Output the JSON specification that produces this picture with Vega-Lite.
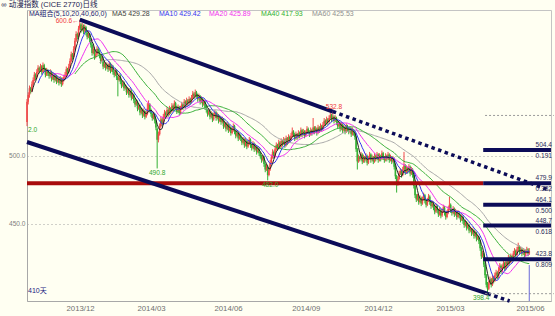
{
"$schema":"https://vega.github.io/schema/vega-lite/v6.json",
"autosize":{"type":"none"},
"padding":{"left":27,"top":10,"right":4,"bottom":15},
"width":524,"height":291,
"background":"#fffff2",
"config":{"view":{"stroke":"#c4c4c4"},"text":{"font":"Liberation Sans, Noto Sans CJK SC, sans-serif","fontSize":6.6}},
"datasets":{"k":[
{"i":0,"o":525,"h":542,"l":522,"c":540},{"i":1,"o":540,"h":547,"l":538,"c":545},{"i":2,"o":545,"h":552,"l":543,"c":550},{"i":3,"o":550,"h":551,"l":546,"c":548},{"i":4,"o":548,"h":555,"l":547,"c":553},{"i":5,"o":553,"h":558,"l":552,"c":556},{"i":6,"o":556,"h":562,"l":555,"c":560},{"i":7,"o":560,"h":561,"l":556,"c":558},{"i":8,"o":558,"h":564,"l":557,"c":562},{"i":9,"o":562,"h":567,"l":561,"c":565},
{"i":10,"o":565,"h":566,"l":561,"c":563},{"i":11,"o":563,"h":568,"l":562,"c":566},{"i":12,"o":566,"h":567,"l":560,"c":562},{"i":13,"o":562,"h":569,"l":561,"c":567},{"i":14,"o":567,"h":568,"l":562,"c":564},{"i":15,"o":564,"h":565,"l":558,"c":560},{"i":16,"o":560,"h":565,"l":559,"c":563},{"i":17,"o":563,"h":564,"l":559,"c":561},{"i":18,"o":561,"h":562,"l":557,"c":559},{"i":19,"o":559,"h":564,"l":558,"c":562},
{"i":20,"o":562,"h":563,"l":555,"c":557},{"i":21,"o":557,"h":562,"l":556,"c":560},{"i":22,"o":560,"h":561,"l":554,"c":556},{"i":23,"o":556,"h":561,"l":555,"c":559},{"i":24,"o":559,"h":560,"l":553,"c":555},{"i":25,"o":555,"h":559,"l":554,"c":557},{"i":26,"o":557,"h":558,"l":552,"c":554},{"i":27,"o":554,"h":559,"l":553,"c":557},{"i":28,"o":557,"h":558,"l":551,"c":553},{"i":29,"o":553,"h":558,"l":552,"c":556},
{"i":30,"o":556,"h":560,"l":555,"c":558},{"i":31,"o":558,"h":562,"l":557,"c":560},{"i":32,"o":560,"h":566,"l":559,"c":564},{"i":33,"o":564,"h":565,"l":560,"c":562},{"i":34,"o":562,"h":568,"l":561,"c":566},{"i":35,"o":566,"h":572,"l":565,"c":570},{"i":36,"o":570,"h":577,"l":569,"c":575},{"i":37,"o":575,"h":576,"l":571,"c":573},{"i":38,"o":573,"h":581,"l":572,"c":579},{"i":39,"o":579,"h":587,"l":578,"c":585},
{"i":40,"o":585,"h":592,"l":584,"c":590},{"i":41,"o":590,"h":591,"l":586,"c":588},{"i":42,"o":588,"h":596,"l":587,"c":594},{"i":43,"o":594,"h":600.6,"l":593,"c":597},{"i":44,"o":597,"h":598,"l":591,"c":593},{"i":45,"o":593,"h":598,"l":592,"c":596},{"i":46,"o":596,"h":597,"l":590,"c":592},{"i":47,"o":592,"h":597,"l":591,"c":595},{"i":48,"o":595,"h":596,"l":589,"c":591},{"i":49,"o":591,"h":592,"l":586,"c":588},
{"i":50,"o":588,"h":592,"l":587,"c":590},{"i":51,"o":590,"h":591,"l":584,"c":586},{"i":52,"o":586,"h":587,"l":580,"c":582},{"i":53,"o":582,"h":583,"l":574,"c":576},{"i":54,"o":576,"h":581,"l":575,"c":579},{"i":55,"o":579,"h":580,"l":571,"c":573},{"i":56,"o":573,"h":577,"l":572,"c":575},{"i":57,"o":575,"h":581,"l":574,"c":579},{"i":58,"o":579,"h":580,"l":575,"c":577},{"i":59,"o":577,"h":578,"l":572,"c":574},
{"i":60,"o":574,"h":575,"l":568,"c":570},{"i":61,"o":570,"h":574,"l":569,"c":572},{"i":62,"o":572,"h":573,"l":564,"c":566},{"i":63,"o":566,"h":570,"l":565,"c":568},{"i":64,"o":568,"h":569,"l":563,"c":565},{"i":65,"o":565,"h":569,"l":564,"c":567},{"i":66,"o":567,"h":568,"l":562,"c":564},{"i":67,"o":564,"h":570,"l":563,"c":568},{"i":68,"o":568,"h":569,"l":561,"c":563},{"i":69,"o":563,"h":568,"l":562,"c":566},
{"i":70,"o":566,"h":567,"l":560,"c":562},{"i":71,"o":562,"h":563,"l":558,"c":560},{"i":72,"o":560,"h":565,"l":559,"c":563},{"i":73,"o":563,"h":564,"l":556,"c":558},{"i":74,"o":558,"h":559,"l":544,"c":556},{"i":75,"o":556,"h":561,"l":555,"c":559},{"i":76,"o":559,"h":560,"l":553,"c":555},{"i":77,"o":555,"h":556,"l":550,"c":552},{"i":78,"o":552,"h":556,"l":551,"c":554},{"i":79,"o":554,"h":555,"l":548,"c":550},
{"i":80,"o":550,"h":553,"l":549,"c":551},{"i":81,"o":551,"h":552,"l":545,"c":547},{"i":82,"o":547,"h":551,"l":546,"c":549},{"i":83,"o":549,"h":550,"l":543,"c":545},{"i":84,"o":545,"h":550,"l":544,"c":548},{"i":85,"o":548,"h":549,"l":541,"c":543},{"i":86,"o":543,"h":547,"l":542,"c":545},{"i":87,"o":545,"h":546,"l":539,"c":541},{"i":88,"o":541,"h":542,"l":536,"c":538},{"i":89,"o":538,"h":542,"l":537,"c":540},
{"i":90,"o":540,"h":541,"l":533,"c":535},{"i":91,"o":535,"h":539,"l":534,"c":537},{"i":92,"o":537,"h":538,"l":530,"c":532},{"i":93,"o":532,"h":536,"l":531,"c":534},{"i":94,"o":534,"h":535,"l":528,"c":530},{"i":95,"o":530,"h":535,"l":529,"c":533},{"i":96,"o":533,"h":534,"l":527,"c":529},{"i":97,"o":529,"h":533,"l":528,"c":531},{"i":98,"o":531,"h":539,"l":530,"c":535},{"i":99,"o":535,"h":541,"l":534,"c":538},
{"i":100,"o":538,"h":539,"l":532,"c":534},{"i":101,"o":534,"h":535,"l":529,"c":531},{"i":102,"o":531,"h":532,"l":526,"c":528},{"i":103,"o":528,"h":532,"l":527,"c":530},{"i":104,"o":530,"h":531,"l":524,"c":526},{"i":105,"o":526,"h":527,"l":519,"c":521},{"i":106,"o":520,"h":521,"l":490.8,"c":512},{"i":107,"o":512,"h":518,"l":510,"c":516},{"i":108,"o":516,"h":524,"l":515,"c":522},{"i":109,"o":522,"h":529,"l":521,"c":527},
{"i":110,"o":527,"h":528,"l":522,"c":524},{"i":111,"o":524,"h":531,"l":523,"c":529},{"i":112,"o":529,"h":534,"l":528,"c":532},{"i":113,"o":532,"h":533,"l":528,"c":530},{"i":114,"o":530,"h":536,"l":529,"c":534},{"i":115,"o":534,"h":535,"l":529,"c":531},{"i":116,"o":531,"h":537,"l":530,"c":535},{"i":117,"o":535,"h":536,"l":531,"c":533},{"i":118,"o":533,"h":539,"l":532,"c":537},{"i":119,"o":537,"h":538,"l":533,"c":535},
{"i":120,"o":535,"h":541,"l":534,"c":539},{"i":121,"o":539,"h":540,"l":534,"c":536},{"i":122,"o":536,"h":537,"l":531,"c":533},{"i":123,"o":533,"h":538,"l":532,"c":536},{"i":124,"o":536,"h":537,"l":530,"c":532},{"i":125,"o":532,"h":537,"l":531,"c":535},{"i":126,"o":535,"h":540,"l":534,"c":538},{"i":127,"o":538,"h":539,"l":534,"c":536},{"i":128,"o":536,"h":542,"l":535,"c":540},{"i":129,"o":540,"h":541,"l":535,"c":537},
{"i":130,"o":537,"h":543,"l":536,"c":541},{"i":131,"o":541,"h":542,"l":537,"c":539},{"i":132,"o":539,"h":544,"l":538,"c":542},{"i":133,"o":542,"h":543,"l":538,"c":540},{"i":134,"o":540,"h":545,"l":539,"c":543},{"i":135,"o":543,"h":548,"l":542,"c":546},{"i":136,"o":546,"h":547,"l":542,"c":544},{"i":137,"o":544,"h":549,"l":543,"c":547},{"i":138,"o":547,"h":548,"l":543,"c":545},{"i":139,"o":545,"h":546,"l":540,"c":542},
{"i":140,"o":542,"h":546,"l":541,"c":544},{"i":141,"o":544,"h":545,"l":538,"c":540},{"i":142,"o":540,"h":544,"l":539,"c":542},{"i":143,"o":542,"h":543,"l":536,"c":538},{"i":144,"o":538,"h":542,"l":537,"c":540},{"i":145,"o":540,"h":541,"l":534,"c":536},{"i":146,"o":536,"h":537,"l":532,"c":534},{"i":147,"o":534,"h":535,"l":529,"c":531},{"i":148,"o":531,"h":535,"l":530,"c":533},{"i":149,"o":533,"h":534,"l":527,"c":529},
{"i":150,"o":529,"h":533,"l":528,"c":531},{"i":151,"o":531,"h":532,"l":525,"c":527},{"i":152,"o":527,"h":532,"l":526,"c":530},{"i":153,"o":530,"h":534,"l":529,"c":532},{"i":154,"o":532,"h":533,"l":526,"c":528},{"i":155,"o":528,"h":532,"l":527,"c":530},{"i":156,"o":530,"h":531,"l":524,"c":526},{"i":157,"o":526,"h":530,"l":525,"c":528},{"i":158,"o":528,"h":529,"l":523,"c":525},{"i":159,"o":525,"h":529,"l":524,"c":527},
{"i":160,"o":527,"h":528,"l":520,"c":522},{"i":161,"o":522,"h":526,"l":521,"c":524},{"i":162,"o":524,"h":525,"l":518,"c":520},{"i":163,"o":520,"h":525,"l":519,"c":523},{"i":164,"o":523,"h":524,"l":517,"c":519},{"i":165,"o":519,"h":523,"l":518,"c":521},{"i":166,"o":521,"h":522,"l":515,"c":517},{"i":167,"o":517,"h":521,"l":516,"c":519},{"i":168,"o":519,"h":524,"l":518,"c":522},{"i":169,"o":522,"h":523,"l":516,"c":518},
{"i":170,"o":518,"h":519,"l":513,"c":515},{"i":171,"o":515,"h":519,"l":514,"c":517},{"i":172,"o":517,"h":518,"l":511,"c":513},{"i":173,"o":513,"h":517,"l":512,"c":515},{"i":174,"o":515,"h":516,"l":511,"c":513},{"i":175,"o":513,"h":514,"l":508,"c":510},{"i":176,"o":510,"h":514,"l":509,"c":512},{"i":177,"o":512,"h":513,"l":506,"c":508},{"i":178,"o":508,"h":513,"l":507,"c":511},{"i":179,"o":511,"h":512,"l":505,"c":507},
{"i":180,"o":507,"h":511,"l":506,"c":509},{"i":181,"o":509,"h":514,"l":508,"c":512},{"i":182,"o":512,"h":513,"l":506,"c":508},{"i":183,"o":508,"h":509,"l":504,"c":506},{"i":184,"o":506,"h":511,"l":505,"c":509},{"i":185,"o":509,"h":510,"l":503,"c":505},{"i":186,"o":505,"h":509,"l":504,"c":507},{"i":187,"o":507,"h":508,"l":501,"c":503},{"i":188,"o":503,"h":507,"l":502,"c":505},{"i":189,"o":505,"h":506,"l":500,"c":502},
{"i":190,"o":502,"h":503,"l":498,"c":500},{"i":191,"o":500,"h":501,"l":495,"c":497},{"i":192,"o":497,"h":501,"l":496,"c":499},{"i":193,"o":499,"h":500,"l":492,"c":494},{"i":194,"o":494,"h":495,"l":488,"c":490},{"i":195,"o":490,"h":494,"l":489,"c":492},{"i":196,"o":492,"h":493,"l":482,"c":486},{"i":197,"o":486,"h":491,"l":485,"c":490},{"i":198,"o":490,"h":497,"l":489,"c":495},{"i":199,"o":495,"h":501,"l":494,"c":499},
{"i":200,"o":499,"h":505,"l":498,"c":503},{"i":201,"o":503,"h":504,"l":498,"c":500},{"i":202,"o":500,"h":507,"l":499,"c":505},{"i":203,"o":505,"h":510,"l":504,"c":508},{"i":204,"o":508,"h":509,"l":504,"c":506},{"i":205,"o":506,"h":512,"l":505,"c":510},{"i":206,"o":510,"h":511,"l":505,"c":507},{"i":207,"o":507,"h":513,"l":506,"c":511},{"i":208,"o":511,"h":512,"l":507,"c":509},{"i":209,"o":509,"h":514,"l":508,"c":512},
{"i":210,"o":512,"h":513,"l":506,"c":508},{"i":211,"o":508,"h":515,"l":507,"c":513},{"i":212,"o":513,"h":514,"l":508,"c":510},{"i":213,"o":510,"h":516,"l":509,"c":514},{"i":214,"o":514,"h":515,"l":510,"c":512},{"i":215,"o":512,"h":517,"l":511,"c":515},{"i":216,"o":515,"h":521,"l":514,"c":518},{"i":217,"o":518,"h":519,"l":514,"c":516},{"i":218,"o":516,"h":517,"l":511,"c":513},{"i":219,"o":513,"h":518,"l":512,"c":516},
{"i":220,"o":516,"h":517,"l":512,"c":514},{"i":221,"o":514,"h":519,"l":513,"c":517},{"i":222,"o":517,"h":518,"l":513,"c":515},{"i":223,"o":515,"h":521,"l":514,"c":519},{"i":224,"o":519,"h":520,"l":514,"c":516},{"i":225,"o":516,"h":520,"l":515,"c":518},{"i":226,"o":518,"h":519,"l":513,"c":515},{"i":227,"o":515,"h":519,"l":514,"c":517},{"i":228,"o":517,"h":522,"l":516,"c":520},{"i":229,"o":520,"h":521,"l":516,"c":518},
{"i":230,"o":518,"h":519,"l":514,"c":516},{"i":231,"o":516,"h":521,"l":515,"c":519},{"i":232,"o":519,"h":520,"l":515,"c":517},{"i":233,"o":517,"h":528,"l":516,"c":521},{"i":234,"o":521,"h":522,"l":516,"c":518},{"i":235,"o":518,"h":522,"l":517,"c":520},{"i":236,"o":520,"h":521,"l":515,"c":517},{"i":237,"o":517,"h":523,"l":516,"c":521},{"i":238,"o":521,"h":522,"l":517,"c":519},{"i":239,"o":519,"h":524,"l":518,"c":522},
{"i":240,"o":522,"h":523,"l":518,"c":520},{"i":241,"o":520,"h":525,"l":519,"c":523},{"i":242,"o":523,"h":528,"l":522,"c":526},{"i":243,"o":526,"h":527,"l":522,"c":524},{"i":244,"o":524,"h":529,"l":523,"c":527},{"i":245,"o":527,"h":528,"l":523,"c":525},{"i":246,"o":525,"h":530,"l":524,"c":528},{"i":247,"o":528,"h":532,"l":527,"c":530},{"i":248,"o":530,"h":531,"l":525,"c":527},{"i":249,"o":527,"h":532.8,"l":526,"c":529},
{"i":250,"o":529,"h":530,"l":524,"c":526},{"i":251,"o":526,"h":530,"l":525,"c":528},{"i":252,"o":528,"h":529,"l":523,"c":525},{"i":253,"o":525,"h":526,"l":520,"c":522},{"i":254,"o":522,"h":526,"l":521,"c":524},{"i":255,"o":524,"h":525,"l":518,"c":520},{"i":256,"o":520,"h":525,"l":519,"c":523},{"i":257,"o":523,"h":524,"l":517,"c":519},{"i":258,"o":519,"h":523,"l":518,"c":521},{"i":259,"o":521,"h":522,"l":516,"c":518},
{"i":260,"o":518,"h":524,"l":517,"c":522},{"i":261,"o":522,"h":523,"l":518,"c":520},{"i":262,"o":520,"h":521,"l":516,"c":518},{"i":263,"o":518,"h":522,"l":517,"c":520},{"i":264,"o":520,"h":521,"l":514,"c":516},{"i":265,"o":516,"h":521,"l":515,"c":519},{"i":266,"o":519,"h":520,"l":515,"c":517},{"i":267,"o":517,"h":518,"l":512,"c":514},{"i":268,"o":514,"h":515,"l":503,"c":505},{"i":269,"o":505,"h":506,"l":490,"c":496},
{"i":270,"o":496,"h":501,"l":495,"c":499},{"i":271,"o":499,"h":500,"l":496,"c":498},{"i":272,"o":498,"h":503,"l":497,"c":501},{"i":273,"o":501,"h":502,"l":494,"c":496},{"i":274,"o":496,"h":501,"l":495,"c":499},{"i":275,"o":499,"h":500,"l":495,"c":497},{"i":276,"o":497,"h":502,"l":496,"c":500},{"i":277,"o":500,"h":501,"l":493,"c":495},{"i":278,"o":495,"h":500,"l":494,"c":498},{"i":279,"o":498,"h":503,"l":497,"c":501},
{"i":280,"o":501,"h":502,"l":495,"c":497},{"i":281,"o":497,"h":501,"l":496,"c":499},{"i":282,"o":499,"h":500,"l":494,"c":496},{"i":283,"o":496,"h":502,"l":495,"c":500},{"i":284,"o":500,"h":501,"l":496,"c":498},{"i":285,"o":498,"h":503,"l":497,"c":501},{"i":286,"o":501,"h":502,"l":495,"c":497},{"i":287,"o":497,"h":502,"l":496,"c":500},{"i":288,"o":500,"h":501,"l":496,"c":498},{"i":289,"o":498,"h":504,"l":497,"c":502},
{"i":290,"o":502,"h":503,"l":497,"c":499},{"i":291,"o":499,"h":500,"l":495,"c":497},{"i":292,"o":497,"h":502,"l":496,"c":500},{"i":293,"o":500,"h":501,"l":496,"c":498},{"i":294,"o":498,"h":503,"l":497,"c":501},{"i":295,"o":501,"h":502,"l":495,"c":497},{"i":296,"o":497,"h":501,"l":496,"c":499},{"i":297,"o":499,"h":500,"l":494,"c":496},{"i":298,"o":496,"h":500,"l":495,"c":498},{"i":299,"o":498,"h":499,"l":490,"c":492},
{"i":300,"o":492,"h":493,"l":483,"c":485},{"i":301,"o":485,"h":486,"l":473,"c":480},{"i":302,"o":480,"h":485,"l":478,"c":483},{"i":303,"o":483,"h":489,"l":482,"c":487},{"i":304,"o":487,"h":491,"l":486,"c":489},{"i":305,"o":489,"h":490,"l":484,"c":486},{"i":306,"o":486,"h":492,"l":485,"c":490},{"i":307,"o":490,"h":503,"l":489,"c":493},{"i":308,"o":493,"h":494,"l":486,"c":488},{"i":309,"o":488,"h":493,"l":487,"c":491},
{"i":310,"o":491,"h":492,"l":487,"c":489},{"i":311,"o":489,"h":494,"l":488,"c":492},{"i":312,"o":492,"h":493,"l":485,"c":487},{"i":313,"o":487,"h":492,"l":486,"c":490},{"i":314,"o":490,"h":491,"l":484,"c":486},{"i":315,"o":486,"h":487,"l":476,"c":478},{"i":316,"o":478,"h":479,"l":469,"c":471},{"i":317,"o":471,"h":472,"l":466,"c":468},{"i":318,"o":468,"h":472,"l":467,"c":470},{"i":319,"o":470,"h":471,"l":464,"c":466},
{"i":320,"o":466,"h":471,"l":465,"c":469},{"i":321,"o":469,"h":470,"l":463,"c":465},{"i":322,"o":465,"h":470,"l":464,"c":468},{"i":323,"o":468,"h":473,"l":467,"c":471},{"i":324,"o":471,"h":472,"l":465,"c":467},{"i":325,"o":467,"h":468,"l":462,"c":464},{"i":326,"o":464,"h":469,"l":463,"c":467},{"i":327,"o":467,"h":472,"l":466,"c":470},{"i":328,"o":470,"h":471,"l":464,"c":466},{"i":329,"o":466,"h":467,"l":461,"c":463},
{"i":330,"o":463,"h":467,"l":462,"c":465},{"i":331,"o":465,"h":466,"l":460,"c":462},{"i":332,"o":462,"h":463,"l":457,"c":459},{"i":333,"o":459,"h":465,"l":458,"c":463},{"i":334,"o":463,"h":464,"l":458,"c":460},{"i":335,"o":460,"h":461,"l":455,"c":457},{"i":336,"o":457,"h":462,"l":456,"c":460},{"i":337,"o":460,"h":461,"l":454,"c":456},{"i":338,"o":456,"h":461,"l":455,"c":459},{"i":339,"o":459,"h":464,"l":458,"c":462},
{"i":340,"o":462,"h":463,"l":456,"c":458},{"i":341,"o":458,"h":459,"l":453,"c":455},{"i":342,"o":455,"h":460,"l":454,"c":458},{"i":343,"o":458,"h":463,"l":457,"c":461},{"i":344,"o":461,"h":470,"l":460,"c":464},{"i":345,"o":464,"h":465,"l":458,"c":460},{"i":346,"o":460,"h":461,"l":456,"c":458},{"i":347,"o":458,"h":463,"l":457,"c":461},{"i":348,"o":461,"h":462,"l":455,"c":457},{"i":349,"o":457,"h":461,"l":456,"c":459},
{"i":350,"o":459,"h":460,"l":453,"c":455},{"i":351,"o":455,"h":460,"l":454,"c":458},{"i":352,"o":458,"h":459,"l":454,"c":456},{"i":353,"o":456,"h":457,"l":451,"c":453},{"i":354,"o":453,"h":457,"l":452,"c":455},{"i":355,"o":455,"h":456,"l":450,"c":452},{"i":356,"o":452,"h":453,"l":447,"c":449},{"i":357,"o":449,"h":453,"l":448,"c":451},{"i":358,"o":451,"h":452,"l":445,"c":447},{"i":359,"o":447,"h":451,"l":446,"c":449},
{"i":360,"o":449,"h":450,"l":443,"c":445},{"i":361,"o":445,"h":448,"l":444,"c":446},{"i":362,"o":446,"h":447,"l":441,"c":443},{"i":363,"o":443,"h":447,"l":442,"c":445},{"i":364,"o":445,"h":446,"l":439,"c":441},{"i":365,"o":441,"h":445,"l":440,"c":443},{"i":366,"o":443,"h":444,"l":437,"c":439},{"i":367,"o":439,"h":442,"l":438,"c":440},{"i":368,"o":440,"h":441,"l":435,"c":437},{"i":369,"o":437,"h":438,"l":430,"c":432},
{"i":370,"o":432,"h":433,"l":424,"c":426},{"i":371,"o":426,"h":430,"l":425,"c":428},{"i":372,"o":428,"h":429,"l":418,"c":420},{"i":373,"o":420,"h":421,"l":410,"c":412},{"i":374,"o":412,"h":413,"l":403,"c":405},{"i":375,"o":405,"h":407,"l":398.4,"c":402},{"i":376,"o":402,"h":408,"l":401,"c":406},{"i":377,"o":406,"h":411,"l":405,"c":409},{"i":378,"o":409,"h":410,"l":403,"c":405},{"i":379,"o":405,"h":412,"l":404,"c":410},
{"i":380,"o":410,"h":411,"l":406,"c":408},{"i":381,"o":408,"h":414,"l":407,"c":412},{"i":382,"o":412,"h":416,"l":411,"c":414},{"i":383,"o":414,"h":415,"l":409,"c":411},{"i":384,"o":411,"h":418,"l":410,"c":416},{"i":385,"o":416,"h":421,"l":415,"c":419},{"i":386,"o":419,"h":420,"l":413,"c":415},{"i":387,"o":415,"h":420,"l":414,"c":418},{"i":388,"o":418,"h":423,"l":417,"c":421},{"i":389,"o":421,"h":422,"l":415,"c":417},
{"i":390,"o":417,"h":424,"l":416,"c":422},{"i":391,"o":422,"h":423,"l":418,"c":420},{"i":392,"o":420,"h":427,"l":419,"c":425},{"i":393,"o":425,"h":426,"l":420,"c":422},{"i":394,"o":422,"h":428,"l":421,"c":426},{"i":395,"o":426,"h":427,"l":422,"c":424},{"i":396,"o":424,"h":430,"l":423,"c":428},{"i":397,"o":428,"h":432,"l":427,"c":430},{"i":398,"o":430,"h":431,"l":425,"c":427},{"i":399,"o":427,"h":433,"l":426,"c":431},
{"i":400,"o":431,"h":436,"l":430,"c":433},{"i":401,"o":433,"h":434,"l":427,"c":429},{"i":402,"o":429,"h":433,"l":428,"c":431},{"i":403,"o":431,"h":432,"l":426,"c":428},{"i":404,"o":428,"h":432,"l":427,"c":430},{"i":405,"o":430,"h":431,"l":425,"c":427},{"i":406,"o":427,"h":431,"l":426,"c":429},{"i":407,"o":429,"h":433,"l":428,"c":431},{"i":408,"o":431,"h":432,"l":426,"c":428},{"i":409,"o":428,"h":432,"l":427,"c":430}
],
"fib":[{"v":504.4,"a":"504.4","r":"0.191"},{"v":479.9,"a":"479.9","r":"0.382"},{"v":464.1,"a":"464.1","r":"0.500"},{"v":448.7,"a":"448.7","r":"0.618"},{"v":423.8,"a":"423.8","r":"0.809"}]
},
"data":{"name":"k"},
"encoding":{
"x":{"type":"quantitative","scale":{"domain":[0,426.7],"nice":false,"zero":false},
"axis":{"values":[43.2,101,163.7,227,285.8,344.5,409.6],"labelExpr":"datum.value<60?'2013/12':datum.value<130?'2014/03':datum.value<190?'2014/06':datum.value<250?'2014/09':datum.value<310?'2014/12':datum.value<370?'2015/03':'2015/06'","ticks":false,"grid":false,"domainColor":"#a8a8a8","labelColor":"#707070","labelFont":"Liberation Sans","labelFontSize":7.8,"labelPadding":3,"title":null}},
"y":{"type":"quantitative","scale":{"domain":[393.0,607.7],"nice":false,"zero":false},
"axis":{"values":[450,500],"format":".1f","ticks":false,"grid":true,"gridDash":[1,3],"gridColor":"#a0a0a0","domainColor":"#a8a8a8","labelColor":"#808080","labelFont":"Liberation Sans","labelFontSize":6.6,"labelPadding":2,"title":null}}
},
"layer":[
{"mark":{"type":"rule","strokeWidth":1},"encoding":{"x":{"field":"i"},"y":{"field":"l"},"y2":{"field":"h"},"color":{"condition":{"test":"datum.c>=datum.o","value":"#f24a4a"},"value":"#34b034"}}},
{"mark":{"type":"rule","strokeWidth":1.6},"encoding":{"x":{"field":"i"},"y":{"field":"o"},"y2":{"field":"c"},"color":{"condition":{"test":"datum.c>=datum.o","value":"#f24a4a"},"value":"#34b034"}}},
{"transform":[{"window":[{"op":"mean","field":"c","as":"m"},{"op":"count","field":"c","as":"n"}],"frame":[-59,0],"sort":[{"field":"i"}]},{"filter":"datum.n>=60"}],"mark":{"type":"line","strokeWidth":1,"color":"#a8a8a8"},"encoding":{"x":{"field":"i"},"y":{"field":"m"}}},
{"transform":[{"window":[{"op":"mean","field":"c","as":"m"},{"op":"count","field":"c","as":"n"}],"frame":[-39,0],"sort":[{"field":"i"}]},{"filter":"datum.n>=40"}],"mark":{"type":"line","strokeWidth":1,"color":"#38b038"},"encoding":{"x":{"field":"i"},"y":{"field":"m"}}},
{"transform":[{"window":[{"op":"mean","field":"c","as":"m"},{"op":"count","field":"c","as":"n"}],"frame":[-19,0],"sort":[{"field":"i"}]},{"filter":"datum.n>=20"}],"mark":{"type":"line","strokeWidth":1,"color":"#f030f0"},"encoding":{"x":{"field":"i"},"y":{"field":"m"}}},
{"transform":[{"window":[{"op":"mean","field":"c","as":"m"},{"op":"count","field":"c","as":"n"}],"frame":[-9,0],"sort":[{"field":"i"}]},{"filter":"datum.n>=10"}],"mark":{"type":"line","strokeWidth":1,"color":"#3434f0"},"encoding":{"x":{"field":"i"},"y":{"field":"m"}}},
{"transform":[{"window":[{"op":"mean","field":"c","as":"m"},{"op":"count","field":"c","as":"n"}],"frame":[-4,0],"sort":[{"field":"i"}]},{"filter":"datum.n>=5"}],"mark":{"type":"line","strokeWidth":1,"color":"#202020"},"encoding":{"x":{"field":"i"},"y":{"field":"m"}}},
{"data":{"values":[{"v":479.9}]},"mark":{"type":"rule","strokeWidth":4,"color":"#a80c0c"},"encoding":{"x":{"datum":0},"x2":{"datum":371.5},"y":{"field":"v"}}},
{"data":{"values":[{"g":"u","i":43,"v":600.6},{"g":"u","i":249,"v":532.8},{"g":"d","i":0,"v":510.3},{"g":"d","i":375,"v":398.4}]},"mark":{"type":"line","strokeWidth":4,"color":"#0c0c58","strokeCap":"butt"},"encoding":{"x":{"field":"i"},"y":{"field":"v"},"detail":{"field":"g"}}},
{"data":{"values":[{"g":"u","i":249,"v":532.8},{"g":"u","i":426,"v":474.55},{"g":"d","i":375,"v":398.4},{"g":"d","i":393,"v":393.0}]},"mark":{"type":"line","strokeWidth":3.5,"color":"#0c0c58","strokeDash":[3.5,3.5],"strokeCap":"butt"},"encoding":{"x":{"field":"i"},"y":{"field":"v"},"detail":{"field":"g"}}},
{"data":{"values":[{"v":529.9},{"v":398.4}]},"mark":{"type":"rule","strokeWidth":1,"color":"#9a9a9a","strokeDash":[2,2]},"encoding":{"x":{"datum":373},"x2":{"datum":429},"y":{"field":"v"}}},
{"data":{"name":"fib"},"mark":{"type":"rule","strokeWidth":4,"color":"#0c0c58"},"encoding":{"x":{"datum":371.5},"x2":{"datum":426.7},"y":{"field":"v"}}},
{"data":{"name":"fib"},"mark":{"type":"text","align":"right","baseline":"bottom","dy":-2,"color":"#2a2a5a"},"encoding":{"x":{"datum":427.5},"y":{"field":"v"},"text":{"field":"a"}}},
{"data":{"name":"fib"},"mark":{"type":"text","align":"right","baseline":"top","dy":3,"color":"#2a2a5a"},"encoding":{"x":{"datum":427.5},"y":{"field":"v"},"text":{"field":"r"}}},
{"data":{"values":[{"i":409,"v":419.5,"v2":393.0}]},"mark":{"type":"rule","strokeWidth":1,"color":"#6a6ad8"},"encoding":{"x":{"field":"i"},"y":{"field":"v"},"y2":{"field":"v2"}}},
{"data":{"values":[{"t":"600.6←","i":43,"v":600.6}]},"mark":{"type":"text","align":"right","baseline":"middle","dx":-1,"dy":1.5,"color":"#f03a3a"},"encoding":{"x":{"field":"i"},"y":{"field":"v"},"text":{"field":"t"}}},
{"data":{"values":[{"t":"532.8","i":250,"v":532.8}]},"mark":{"type":"text","align":"center","baseline":"bottom","dy":-2,"color":"#f03a3a"},"encoding":{"x":{"field":"i"},"y":{"field":"v"},"text":{"field":"t"}}},
{"data":{"values":[{"t":"490.8","i":106,"v":490.8},{"t":"482.0","i":198,"v":482.0}]},"mark":{"type":"text","align":"center","baseline":"top","dy":2,"color":"#2ea82e"},"encoding":{"x":{"field":"i"},"y":{"field":"v"},"text":{"field":"t"}}},
{"data":{"values":[{"t":"398.4","i":375,"v":398.4}]},"mark":{"type":"text","align":"right","baseline":"top","dx":2,"dy":1,"color":"#2ea82e"},"encoding":{"x":{"field":"i"},"y":{"field":"v"},"text":{"field":"t"}}},
{"data":{"values":[{"t":"2.0","i":0,"v":522}]},"mark":{"type":"text","align":"left","baseline":"top","dx":1,"dy":1,"color":"#2ea82e"},"encoding":{"x":{"field":"i"},"y":{"field":"v"},"text":{"field":"t"}}},
{"data":{"values":[{"t":"410天"}]},"mark":{"type":"text","align":"left","baseline":"middle","dx":1,"fontSize":7,"color":"#1a1a80"},"encoding":{"x":{"datum":0},"y":{"datum":400.4},"text":{"field":"t"}}},
{"data":{"values":[{"t":"∞ 动漫指数 (CICE 2770)日线"}]},"mark":{"type":"text","align":"left","baseline":"middle","fontSize":7.5,"color":"#1a1a50"},"encoding":{"x":{"datum":-21},"y":{"datum":611.4},"text":{"field":"t"}}},
{"data":{"values":[{"t":"MA组合(5,10,20,40,60,0)"}]},"mark":{"type":"text","align":"left","baseline":"middle","fontSize":7,"color":"#1a1a70"},"encoding":{"x":{"datum":1.6},"y":{"datum":604.75},"text":{"field":"t"}}},
{"data":{"values":[{"t":"MA5 429.28"}]},"mark":{"type":"text","align":"left","baseline":"middle","fontSize":7,"color":"#404040"},"encoding":{"x":{"datum":69.2},"y":{"datum":604.75},"text":{"field":"t"}}},
{"data":{"values":[{"t":"MA10 429.42"}]},"mark":{"type":"text","align":"left","baseline":"middle","fontSize":7,"color":"#3434f0"},"encoding":{"x":{"datum":107.5},"y":{"datum":604.75},"text":{"field":"t"}}},
{"data":{"values":[{"t":"MA20 425.89"}]},"mark":{"type":"text","align":"left","baseline":"middle","fontSize":7,"color":"#f030f0"},"encoding":{"x":{"datum":148.2},"y":{"datum":604.75},"text":{"field":"t"}}},
{"data":{"values":[{"t":"MA40 417.93"}]},"mark":{"type":"text","align":"left","baseline":"middle","fontSize":7,"color":"#30b030"},"encoding":{"x":{"datum":190.6},"y":{"datum":604.75},"text":{"field":"t"}}},
{"data":{"values":[{"t":"MA60 425.53"}]},"mark":{"type":"text","align":"left","baseline":"middle","fontSize":7,"color":"#909090"},"encoding":{"x":{"datum":232.1},"y":{"datum":604.75},"text":{"field":"t"}}}
]
}
